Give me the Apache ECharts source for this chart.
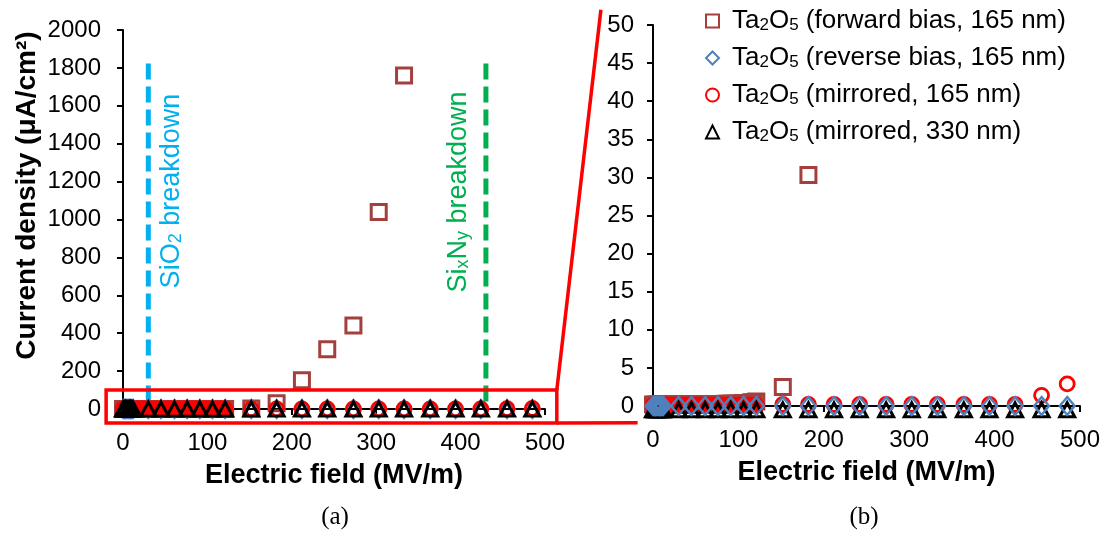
<!DOCTYPE html>
<html>
<head>
<meta charset="utf-8">
<script src="https://cdn.jsdelivr.net/npm/echarts@6/dist/echarts.min.js"></script>
<style>
html, body { margin: 0; padding: 0; background: #fff; }
#main { width: 1112px; height: 533px; }
</style>
</head>
<body>
<div id="main"></div>
<script>
// Ta2O5 forward bias, 165 nm
var fwdX = [0, 3, 6, 9, 12, 15, 18, 21, 24, 27, 30, 33, 36, 39, 42, 45, 48, 52, 55, 58, 61,
            64, 67, 70, 73, 76, 79, 82, 85, 88, 91, 94, 97, 100, 103, 106, 109, 112, 115, 118, 121,
            152, 182, 212, 242, 273, 303, 333];
var fwdY = [0.2, 0.2, 0.2, 0.2, 0.2, 0.2, 0.2, 0.2, 0.2, 0.2, 0.2, 0.2, 0.2, 0.2, 0.2, 0.2, 0.2, 0.2, 0.2, 0.2, 0.2,
            0.2, 0.2, 0.2, 0.2, 0.2, 0.2, 0.2, 0.3, 0.3, 0.3, 0.3, 0.3, 0.3, 0.3, 0.4, 0.4, 0.4, 0.5, 0.5, 0.6,
            2.5, 30.3, 152, 315, 440, 1040, 1760];
// Ta2O5 reverse bias, 165 nm
var revX = [0, 1.5, 3, 4.5, 6, 7.5, 9, 10.5, 12, 30, 45, 61, 76, 91, 106, 121,
            152, 182, 212, 242, 273, 303, 333, 364, 394, 424, 455, 485];
var revY = [0, 0, 0, 0, 0, 0, 0, 0, 0, 0, 0, 0, 0, 0, 0, 0,
            0, 0, 0, 0, 0, 0, 0, 0, 0, 0, 0, 0];
// Ta2O5 mirrored, 165 nm
var mir165X = [0, 3, 6, 9, 12, 15, 18, 21, 24, 27, 30, 33, 36, 39, 42, 45, 48, 52, 55, 58, 61,
               64, 67, 70, 73, 76, 79, 82, 85, 88, 91, 94, 97, 100, 103, 106, 109, 112, 115, 118, 121,
               152, 182, 212, 242, 273, 303, 333, 364, 394, 424, 455, 485];
var mir165Y = [0.1, 0.1, 0.1, 0.1, 0.1, 0.1, 0.1, 0.1, 0.1, 0.1, 0.1, 0.1, 0.1, 0.1, 0.1, 0.1, 0.1, 0.1, 0.1, 0.1, 0.1,
               0.1, 0.1, 0.1, 0.1, 0.1, 0.1, 0.1, 0.1, 0.1, 0.1, 0.1, 0.1, 0.1, 0.1, 0.1, 0.1, 0.1, 0.1, 0.1, 0.1,
               0.2, 0.2, 0.2, 0.2, 0.2, 0.2, 0.2, 0.2, 0.2, 0.2, 1.4, 2.9];
// Ta2O5 mirrored, 330 nm
var mir330X = [0, 1.5, 3, 4.5, 6, 7.5, 9, 10.5, 12, 30, 45, 61, 76, 91, 106, 121,
               152, 182, 212, 242, 273, 303, 333, 364, 394, 424, 455, 485];
var mir330Y = [-0.5, -0.5, -0.5, -0.5, -0.5, -0.5, -0.5, -0.5, -0.5, -0.5, -0.5, -0.5, -0.5, -0.5, -0.5, -0.5,
               -0.5, -0.5, -0.5, -0.5, -0.5, -0.5, -0.5, -0.5, -0.5, -0.5, -0.5, -0.5];
// breakdown markers: field and vertical extent
var sio2Line = [[30, 40], [30, 1850]];
var sixnyLine = [[430, 40], [430, 1850]];

var seriesNames = ['Ta2O5 (forward bias, 165 nm)', 'Ta2O5 (reverse bias, 165 nm)',
                   'Ta2O5 (mirrored, 165 nm)', 'Ta2O5 (mirrored, 330 nm)'];

var FONT = 'Liberation Sans, Arial, sans-serif';
function pairs(xs, ys) { return xs.map(function (x, i) { return [x, ys[i]]; }); }

var styles = {
    fwd: { symbol: 'rect', symbolSize: 15, itemStyle: { color: 'rgba(0,0,0,0)', borderColor: '#A3403E', borderWidth: 3, opacity: 1 } },
    rev: { symbol: 'diamond', symbolSize: [15, 18], itemStyle: { color: 'rgba(0,0,0,0)', borderColor: '#4F81BD', borderWidth: 2.4, opacity: 1 } },
    m165: { symbol: 'circle', symbolSize: 14, itemStyle: { color: 'rgba(0,0,0,0)', borderColor: '#FF0000', borderWidth: 2.8, opacity: 1 } },
    m330: { symbol: 'triangle', symbolSize: [15, 14], itemStyle: { color: 'rgba(0,0,0,0)', borderColor: '#000000', borderWidth: 3, opacity: 1 } }
};
function sc(name, st, data, grid, clip) {
    return {
        name: name, type: 'scatter', xAxisIndex: grid, yAxisIndex: grid,
        symbol: st.symbol, symbolSize: st.symbolSize, itemStyle: st.itemStyle,
        data: data, clip: clip, silent: true
    };
}
function vline(data, color) {
    return {
        type: 'line', xAxisIndex: 0, yAxisIndex: 0, data: data, symbol: 'none', silent: true,
        lineStyle: { color: color, width: 5, type: [16, 7], cap: 'butt' }, z: 1
    };
}

var chart = echarts.init(document.getElementById('main'));

function xAxis(grid) {
    return {
        type: 'value', gridIndex: grid, min: 0, max: 500, interval: 100,
        name: 'Electric field (MV/m)', nameLocation: 'middle', nameGap: 53,
        nameTextStyle: { fontFamily: FONT, fontSize: 27, fontWeight: 'bold', color: '#000' },
        axisLine: { onZero: false, lineStyle: { color: '#000', width: 2 } },
        axisTick: { show: true, length: 6, lineStyle: { color: '#000', width: 2 } },
        axisLabel: { fontFamily: FONT, fontSize: 24, color: '#000', margin: 22 },
        splitLine: { show: false }
    };
}
function plain(v) { return String(v); }

var option = {
    animation: false,
    backgroundColor: '#fff',
    grid: [
        { left: 123, top: 30, width: 422, height: 379 },
        { left: 653, top: 25, width: 427, height: 381 }
    ],
    xAxis: [xAxis(0), xAxis(1)],
    yAxis: [
        {
            type: 'value', gridIndex: 0, min: 0, max: 2000, interval: 200,
            name: 'Current density (μA/cm²)', nameLocation: 'middle', nameGap: 82,
            nameTextStyle: { fontFamily: FONT, fontSize: 28, fontWeight: 'bold', color: '#000', padding: [0, 0, 0, 48] },
            axisLine: { show: true, lineStyle: { color: '#000', width: 2 } },
            axisTick: { show: true, length: 6, lineStyle: { color: '#000', width: 2 } },
            axisLabel: { fontFamily: FONT, fontSize: 24, color: '#000', margin: 22, formatter: plain },
            splitLine: { show: false }
        },
        {
            type: 'value', gridIndex: 1, min: 0, max: 50, interval: 5,
            axisLine: { show: true, lineStyle: { color: '#000', width: 2 } },
            axisTick: { show: true, length: 6, lineStyle: { color: '#000', width: 2 } },
            axisLabel: { fontFamily: FONT, fontSize: 24, color: '#000', margin: 19, formatter: plain },
            splitLine: { show: false }
        }
    ],
    legend: {
        data: seriesNames, orient: 'vertical', left: 700, top: 3,
        itemWidth: 13, itemHeight: 13, itemGap: 11,
        selectedMode: false,
        formatter: function (name) { return '{g| }' + name.replace('Ta2O5', 'Ta{s|2}O{s|5}'); },
        textStyle: {
            fontFamily: FONT, fontSize: 26, color: '#000',
            rich: {
                g: { width: 8 },
                s: { fontFamily: FONT, fontSize: 17, color: '#000', lineHeight: 12, verticalAlign: 'bottom' }
            }
        }
    },
    series: [
        vline(sio2Line, '#00B0F0'),
        vline(sixnyLine, '#00B050'),
        sc(seriesNames[0], styles.fwd, pairs(fwdX, fwdY), 0, false),
        sc(seriesNames[1], styles.rev, pairs(revX, revY), 0, false),
        sc(seriesNames[2], styles.m165, pairs(mir165X, mir165Y), 0, false),
        sc(seriesNames[3], styles.m330, pairs(mir330X, mir330Y), 0, false),
        sc(seriesNames[0], styles.fwd, pairs(fwdX, fwdY), 1, true),
        sc(seriesNames[2], styles.m165, pairs(mir165X, mir165Y), 1, false),
        sc(seriesNames[3], styles.m330, pairs(mir330X, mir330Y), 1, false),
        sc(seriesNames[1], styles.rev, pairs(revX, revY), 1, false)
    ]
};
chart.setOption(option);

// zoom box, connectors and annotations, placed through the grids' scales
function px(g, v) { return chart.convertToPixel({ gridIndex: g }, v); }
var b0 = px(0, [-20, 100]), b1 = px(0, [514, -74]);
var c0 = px(1, [-61, 52]), c1 = px(1, [-18, -2.2]);
var tSi = px(0, [58, 1150]), tSn = px(0, [397, 1145]);
var RED = '#FF0000';
var subStyle = { fontFamily: FONT, fontSize: 18, lineHeight: 12, verticalAlign: 'bottom' };
chart.setOption({
    graphic: [
        { type: 'rect', silent: true, z: 100,
          shape: { x: b0[0], y: b0[1], width: b1[0] - b0[0], height: b1[1] - b0[1] },
          style: { fill: 'none', stroke: RED, lineWidth: 3.5 } },
        { type: 'line', silent: true, z: 100,
          shape: { x1: b1[0], y1: b0[1], x2: c0[0], y2: c0[1] },
          style: { stroke: RED, lineWidth: 3.5 } },
        { type: 'line', silent: true, z: 100,
          shape: { x1: b1[0], y1: b1[1], x2: c1[0], y2: c1[1] },
          style: { stroke: RED, lineWidth: 3.5 } },
        { type: 'text', silent: true, x: tSi[0], y: tSi[1], rotation: Math.PI / 2,
          style: { text: 'SiO{s|2} breakdown', fontFamily: FONT, fontSize: 27, fill: '#00B0F0',
                   align: 'center', verticalAlign: 'middle',
                   rich: { s: Object.assign({ fill: '#00B0F0' }, subStyle) } } },
        { type: 'text', silent: true, x: tSn[0], y: tSn[1], rotation: Math.PI / 2,
          style: { text: 'Si{s|x}N{s|y} breakdown', fontFamily: FONT, fontSize: 27, fill: '#00B050',
                   align: 'center', verticalAlign: 'middle',
                   rich: { s: Object.assign({ fill: '#00B050' }, subStyle) } } },
        { type: 'text', silent: true, x: 123 + 212, y: 517,
          style: { text: '(a)', fontFamily: 'Liberation Serif, Times New Roman, serif', fontSize: 25, fill: '#000',
                   align: 'center', verticalAlign: 'middle' } },
        { type: 'text', silent: true, x: 653 + 211, y: 517,
          style: { text: '(b)', fontFamily: 'Liberation Serif, Times New Roman, serif', fontSize: 25, fill: '#000',
                   align: 'center', verticalAlign: 'middle' } }
    ]
});
</script>
</body>
</html>
